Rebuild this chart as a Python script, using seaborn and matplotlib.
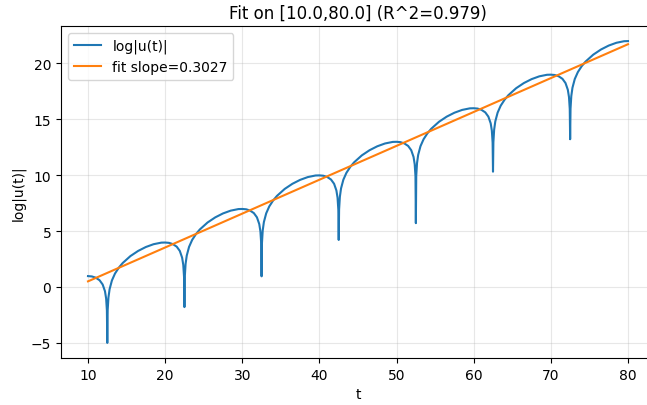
import numpy as np
import pandas as pd
import matplotlib
matplotlib.use('Agg')
import matplotlib.pyplot as plt
import seaborn as sns

# values
t = [10, 10.5, 11, 11.5, 11.9, 12.2, 12.35, 12.45, 12.5,
     12.55, 12.65, 12.8, 13.1, 13.5, 14, 14.5, 15.5, 16.5, 17.5, 18.5, 19.5, 20, 20.5, 21, 21.5, 21.9, 22.2, 22.35, 22.45, 22.5,
     22.55, 22.65, 22.8, 23.1, 23.5, 24, 24.5, 25.5, 26.5, 27.5, 28.5, 29.5, 30, 30.5, 31, 31.5, 31.9, 32.2, 32.35, 32.45, 32.5,
     32.55, 32.65, 32.8, 33.1, 33.5, 34, 34.5, 35.5, 36.5, 37.5, 38.5, 39.5, 40, 40.5, 41, 41.5, 41.9, 42.2, 42.35, 42.45, 42.5,
     42.55, 42.65, 42.8, 43.1, 43.5, 44, 44.5, 45.5, 46.5, 47.5, 48.5, 49.5, 50, 50.5, 51, 51.5, 51.9, 52.2, 52.35, 52.45, 52.5,
     52.55, 52.65, 52.8, 53.1, 53.5, 54, 54.5, 55.5, 56.5, 57.5, 58.5, 59.5, 60, 60.5, 61, 61.5, 61.9, 62.2, 62.35, 62.45, 62.5,
     62.55, 62.65, 62.8, 63.1, 63.5, 64, 64.5, 65.5, 66.5, 67.5, 68.5, 69.5, 70, 70.5, 71, 71.5, 71.9, 72.2, 72.35, 72.45, 72.5,
     72.55, 72.65, 72.8, 73.1, 73.5, 74, 74.5, 75.5, 76.5, 77.5, 78.5, 79.5, 80]

log_u = [0.97, 0.94, 0.83, 0.60, 0.22, -0.38, -1.03, -2.10, -5.0,
         -2.07, -0.94, -0.20, 0.58, 1.20, 1.73, 2.14, 2.76, 3.22, 3.57, 3.82, 3.96, 3.97, 3.94, 3.83, 3.60, 3.22, 2.62, 1.97, 0.90, -1.8,
         0.93, 2.06, 2.80, 3.58, 4.20, 4.73, 5.14, 5.76, 6.22, 6.57, 6.82, 6.96, 6.97, 6.94, 6.83, 6.60, 6.22, 5.62, 4.97, 3.90, 0.95,
         3.93, 5.06, 5.80, 6.58, 7.20, 7.73, 8.14, 8.76, 9.22, 9.57, 9.82, 9.96, 9.97, 9.94, 9.83, 9.60, 9.22, 8.62, 7.97, 6.90, 4.2,
         6.93, 8.06, 8.80, 9.58, 10.20, 10.73, 11.14, 11.76, 12.22, 12.57, 12.82, 12.96, 12.97, 12.94, 12.83, 12.60, 12.22, 11.62, 10.97, 9.90, 5.7,
         9.93, 11.06, 11.80, 12.58, 13.20, 13.73, 14.14, 14.76, 15.22, 15.57, 15.82, 15.96, 15.97, 15.94, 15.83, 15.60, 15.22, 14.62, 13.97, 12.90, 10.3,
         12.93, 14.06, 14.80, 15.58, 16.20, 16.73, 17.14, 17.76, 18.22, 18.57, 18.82, 18.96, 18.97, 18.94, 18.83, 18.60, 18.22, 17.62, 16.97, 15.90, 13.2,
         15.93, 17.06, 17.80, 18.58, 19.20, 19.73, 20.14, 20.76, 21.22, 21.57, 21.82, 21.96, 21.97]

fit_t = [10, 80]
fit_y = [0.50, 21.69]
slope = 0.3027
r2 = 0.979

df = pd.DataFrame({'t': t, 'log_u': log_u})
df_fit = pd.DataFrame({'t': fit_t, 'y': fit_y})

fig = plt.figure(figsize=(6.47, 4.06), dpi=100)
# the reference is cropped on the right, so the axes run past the figure edge
ax = fig.add_axes([61 / 647, 1 - 359 / 406, (655 - 61) / 647, (359 - 27) / 406])
sns.lineplot(data=df, x='t', y='log_u', estimator=None, sort=False,
             color='#1f77b4', lw=1.5, label='log|u(t)|', ax=ax)
sns.lineplot(data=df_fit, x='t', y='y', estimator=None,
             color='#ff7f0e', lw=1.5, label=f'fit slope={slope:.4f}', ax=ax)
ax.set_title(f'Fit on [10.0,80.0] (R^2={r2:.3f})')
ax.set_xlabel('t')
ax.set_ylabel('log|u(t)|')
ax.grid(alpha=0.3)
ax.legend(loc='upper left')
fig.savefig('out.png', dpi=100)
